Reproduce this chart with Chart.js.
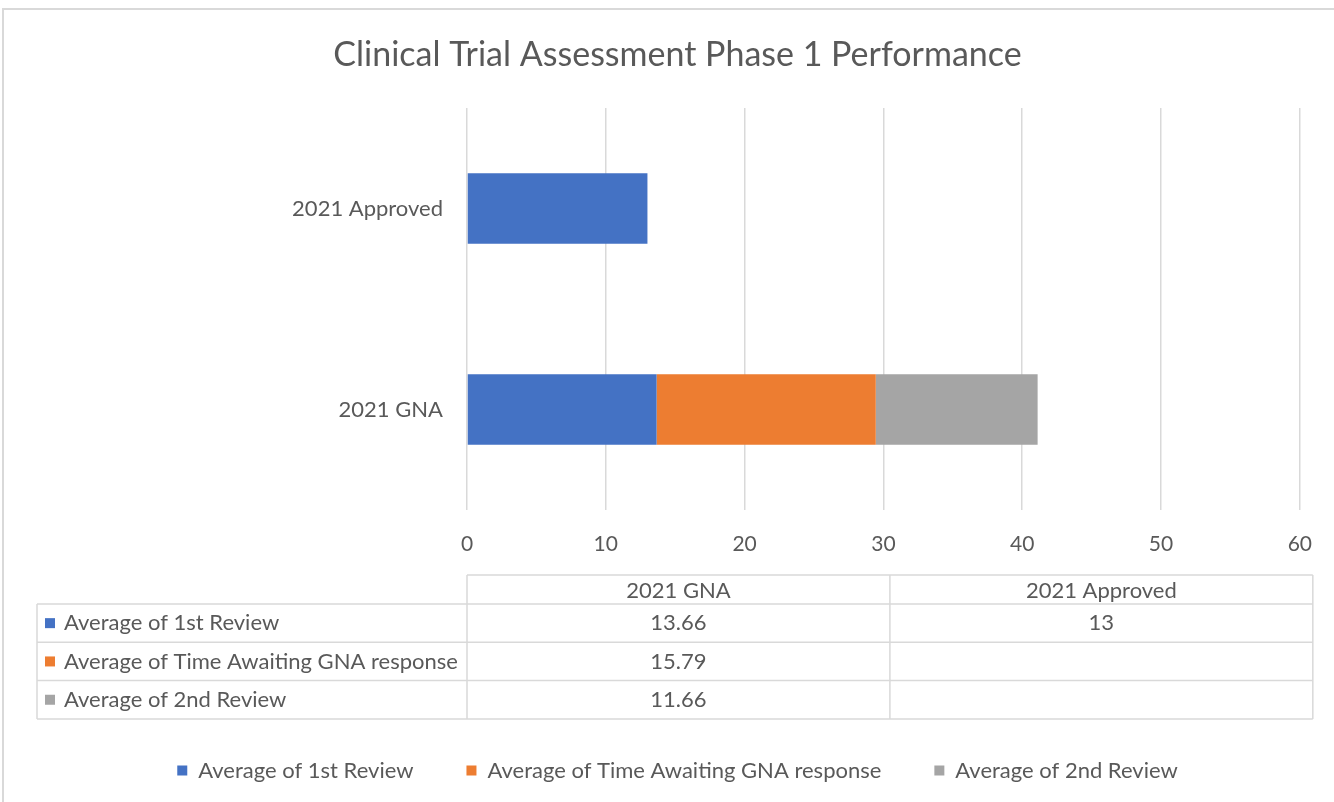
<!DOCTYPE html>
<html>
<head>
<meta charset="utf-8">
<script src="https://cdn.jsdelivr.net/npm/chart.js@4/dist/chart.umd.min.js"></script>
<style>
  body { margin: 0; background: #fff; }
  canvas { display: block; }
</style>
</head>
<body>
<canvas id="myChart" width="1334" height="802"></canvas>
<script>
// chart values
const categories = ['2021 GNA', '2021 Approved'];
const seriesNames = ['Average of 1st Review', 'Average of Time Awaiting GNA response', 'Average of 2nd Review'];
const firstReview = [13.66, 13];
const awaitingGna = [15.79, null];
const secondReview = [11.66, null];
const seriesColors = ['#4472c4', '#ed7d31', '#a5a5a5'];
const xMin = 0, xMax = 60, xStep = 10;

const textColor = '#595959';
const lineColor = '#d9d9d9';
const fontFamily = 'Lato, "Open Sans", sans-serif';

Chart.defaults.font.family = fontFamily;
Chart.defaults.color = textColor;

// frame around the whole chart
const framePlugin = {
    id: 'frame',
    beforeDraw(chart) {
        const ctx = chart.ctx;
        ctx.save();
        ctx.fillStyle = '#fff';
        ctx.fillRect(0, 0, chart.width, chart.height);
        ctx.strokeStyle = lineColor;
        ctx.lineWidth = 2;
        ctx.beginPath();
        ctx.moveTo(3, chart.height);
        ctx.lineTo(3, 9);
        ctx.lineTo(chart.width, 9);
        ctx.stroke();
        ctx.restore();
    }
};

// data table under the axis
const tablePlugin = {
    id: 'dataTable',
    afterDraw(chart) {
        const ctx = chart.ctx;
        const area = chart.chartArea;
        const left = 37;
        const colStart = area.left;
        const right = area.right + 13;
        const colW = (right - colStart) / categories.length;
        const headTop = 575, headBottom = 604, rowH = 38.3;
        const sets = chart.data.datasets;
        const bottom = headBottom + rowH * sets.length;

        ctx.save();
        ctx.strokeStyle = lineColor;
        ctx.lineWidth = 1.5;
        ctx.beginPath();
        ctx.moveTo(colStart, headTop);
        ctx.lineTo(right, headTop);
        for (let i = 0; i <= sets.length; i++) {
            const y = headBottom + rowH * i;
            ctx.moveTo(left, y);
            ctx.lineTo(right, y);
        }
        ctx.moveTo(left, headBottom);
        ctx.lineTo(left, bottom);
        for (let c = 0; c <= categories.length; c++) {
            const x = colStart + colW * c;
            ctx.moveTo(x, headTop);
            ctx.lineTo(x, bottom);
        }
        ctx.stroke();

        ctx.font = '22px ' + fontFamily;
        ctx.fillStyle = textColor;
        ctx.textBaseline = 'middle';
        ctx.textAlign = 'center';
        categories.forEach((cat, c) => {
            ctx.fillText(cat, colStart + colW * (c + 0.5), (headTop + headBottom) / 2 + 1);
        });
        sets.forEach((ds, i) => {
            const yMid = headBottom + rowH * (i + 0.5);
            ctx.fillStyle = ds.backgroundColor;
            ctx.fillRect(45, yMid - 5, 10, 10);
            ctx.fillStyle = textColor;
            ctx.textAlign = 'left';
            ctx.fillText(ds.label, 64, yMid);
            ctx.textAlign = 'center';
            ds.data.forEach((v, c) => {
                if (v !== null) ctx.fillText(String(v), colStart + colW * (c + 0.5), yMid);
            });
        });
        ctx.restore();
    }
};

const data = {
    labels: categories,
    datasets: [
        { label: seriesNames[0], data: firstReview, backgroundColor: seriesColors[0] },
        { label: seriesNames[1], data: awaitingGna, backgroundColor: seriesColors[1] },
        { label: seriesNames[2], data: secondReview, backgroundColor: seriesColors[2] }
    ]
};

const config = {
    type: 'bar',
    data: data,
    options: {
        indexAxis: 'y',
        responsive: false,
        animation: false,
        datasets: {
            bar: { barPercentage: 0.35, categoryPercentage: 1 }
        },
        layout: {
            padding: { top: 0, left: 55, right: 34, bottom: 10.5 }
        },
        scales: {
            x: {
                stacked: true,
                min: xMin,
                max: xMax,
                ticks: { stepSize: xStep, padding: 22, font: { size: 21 }, color: textColor },
                grid: { color: lineColor, lineWidth: 1.5, drawTicks: false },
                border: { display: false },
                afterFit: (scale) => { scale.height = 196.5; }
            },
            y: {
                stacked: true,
                reverse: true,
                ticks: { padding: 24, font: { size: 22 }, color: textColor },
                grid: { display: false, drawTicks: false },
                border: { display: false },
                afterFit: (scale) => { scale.width = 412; }
            }
        },
        plugins: {
            title: {
                display: true,
                text: 'Clinical Trial Assessment Phase 1 Performance',
                color: textColor,
                font: { size: 34, weight: 'normal' },
                padding: { top: 34.6, bottom: 32.6 }
            },
            legend: {
                position: 'bottom',
                labels: {
                    boxWidth: 10,
                    boxHeight: 10,
                    padding: 53,
                    color: textColor,
                    font: { size: 22 }
                }
            },
            tooltip: { enabled: false }
        }
    },
    plugins: [framePlugin, tablePlugin]
};

const myChart = new Chart(document.getElementById('myChart'), config);
</script>
</body>
</html>
